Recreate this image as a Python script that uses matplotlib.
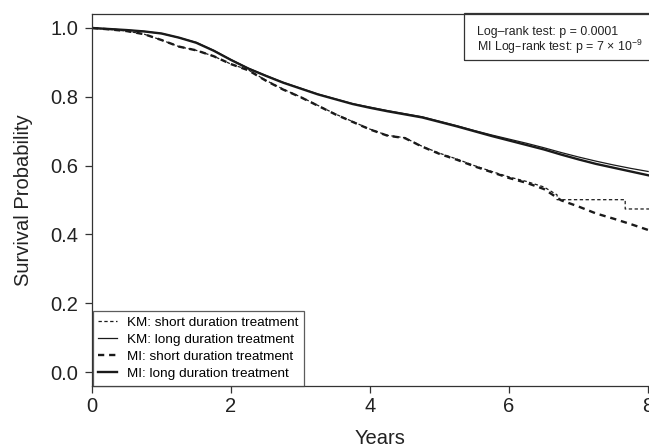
from matplotlib import pyplot as plt
from matplotlib.patches import Rectangle

plt.rcParams['font.family'] = ['Liberation Sans', 'DejaVu Sans']
plt.rcParams['mathtext.default'] = 'regular'
plt.rcParams['lines.scale_dashes'] = False

## Donnees
t = [0, 0.25, 0.5, 0.75, 1.0, 1.25, 1.5, 1.75, 2.0, 2.25, 2.5, 2.75, 3.0, 3.25,
     3.5, 3.75, 4.0, 4.25, 4.5, 4.75, 5.0, 5.25, 5.5, 5.75, 6.0, 6.25, 6.5,
     6.75, 7.0, 7.25, 7.5, 7.75, 8.0]

km_long = [1.0, 0.997, 0.994, 0.99, 0.984, 0.972, 0.958, 0.935, 0.908, 0.883,
           0.862, 0.842, 0.825, 0.808, 0.794, 0.78, 0.77, 0.76, 0.751, 0.742,
           0.729, 0.716, 0.702, 0.689, 0.677, 0.665, 0.652, 0.638, 0.625,
           0.613, 0.602, 0.592, 0.583]
mi_long = [1.0, 0.997, 0.994, 0.99, 0.984, 0.972, 0.957, 0.934, 0.907, 0.882,
           0.861, 0.841, 0.824, 0.807, 0.793, 0.779, 0.768, 0.758, 0.749,
           0.74, 0.727, 0.714, 0.7, 0.686, 0.673, 0.66, 0.647, 0.632, 0.618,
           0.605, 0.594, 0.583, 0.572]

t_km_short = [0, 0.25, 0.5, 0.75, 1.0, 1.25, 1.5, 1.75, 2.0, 2.25, 2.5, 2.75,
              3.0, 3.25, 3.5, 3.75, 4.0, 4.25, 4.5, 4.75, 5.0, 5.25, 5.5, 5.75,
              6.0, 6.25, 6.5, 6.69, 6.69, 7.67, 7.67, 8.05]
km_short = [1.0, 0.996, 0.991, 0.982, 0.965, 0.946, 0.935, 0.918, 0.895, 0.878,
            0.848, 0.822, 0.8, 0.775, 0.75, 0.728, 0.706, 0.688, 0.681, 0.656,
            0.636, 0.619, 0.6, 0.583, 0.567, 0.554, 0.538, 0.515, 0.501, 0.501,
            0.474, 0.474]
mi_short = [1.0, 0.996, 0.991, 0.982, 0.965, 0.946, 0.935, 0.918, 0.895, 0.877,
            0.847, 0.821, 0.799, 0.774, 0.749, 0.727, 0.705, 0.687, 0.68,
            0.655, 0.634, 0.617, 0.598, 0.581, 0.564, 0.55, 0.532, 0.499,
            0.481, 0.461, 0.446, 0.43, 0.413]

xticks = [0, 2, 4, 6, 8]
yticks = [0.0, 0.2, 0.4, 0.6, 0.8, 1.0]

##
fig = plt.figure(figsize=(6.49, 4.48), dpi=100)
ax = fig.add_axes([0.1418, 0.138, 0.889, 0.831])
col = '#1a1a1a'

ax.plot(t_km_short, km_short, color=col, lw=0.9, dashes=(2.4, 1.8),
        label='KM: short duration treatment')
ax.plot(t, km_long, color=col, lw=0.9, label='KM: long duration treatment')
ax.plot(t, mi_short, color=col, lw=1.7, dashes=(4.5, 3.5),
        label='MI: short duration treatment')
ax.plot(t, mi_long, color=col, lw=1.7, label='MI: long duration treatment')

ax.set_xlim(0, 8.3)
ax.set_ylim(-0.041, 1.041)
ax.set_xticks(xticks)
ax.set_yticks(yticks)
ax.set_yticklabels(['%.1f' % v for v in yticks])
ax.tick_params(axis='y', pad=5)
ax.tick_params(axis='x', pad=3)
ax.tick_params(labelsize=14.5, length=5, width=0.9, color='#333333',
               labelcolor='#222222')
for s in ['left', 'bottom', 'top']:
    ax.spines[s].set_linewidth(0.9)
    ax.spines[s].set_color('#333333')
ax.spines['right'].set_visible(False)

ax.set_xlabel('Years', fontsize=14.5, color='#222222', labelpad=9)
ax.set_ylabel('Survival Probability', fontsize=14.5, color='#222222', labelpad=12)

leg = ax.legend(loc='lower left', fontsize=9.7, frameon=True, fancybox=False,
                borderaxespad=0.05, handlelength=1.4, handletextpad=0.75,
                labelspacing=0.34, borderpad=0.4)
leg.get_frame().set_edgecolor('#333333')
leg.get_frame().set_linewidth(0.9)

# boite du test en haut a droite
fig.patches.append(Rectangle((464 / 649, 1 - 60 / 448), 0.3, 47 / 448,
                             transform=fig.transFigure, fill=False,
                             edgecolor='#333333', lw=0.9))
fig.text(477 / 649, 1 - 32 / 448, 'Log–rank test: p = 0.0001', fontsize=8.9,
         va='center', color='#222222')
fig.text(477 / 649, 1 - 47 / 448, 'MI Log–rank test: p = 7 × 10$^{−9}$',
         fontsize=8.9, va='center', color='#222222')

plt.savefig('out.png', dpi=100)
